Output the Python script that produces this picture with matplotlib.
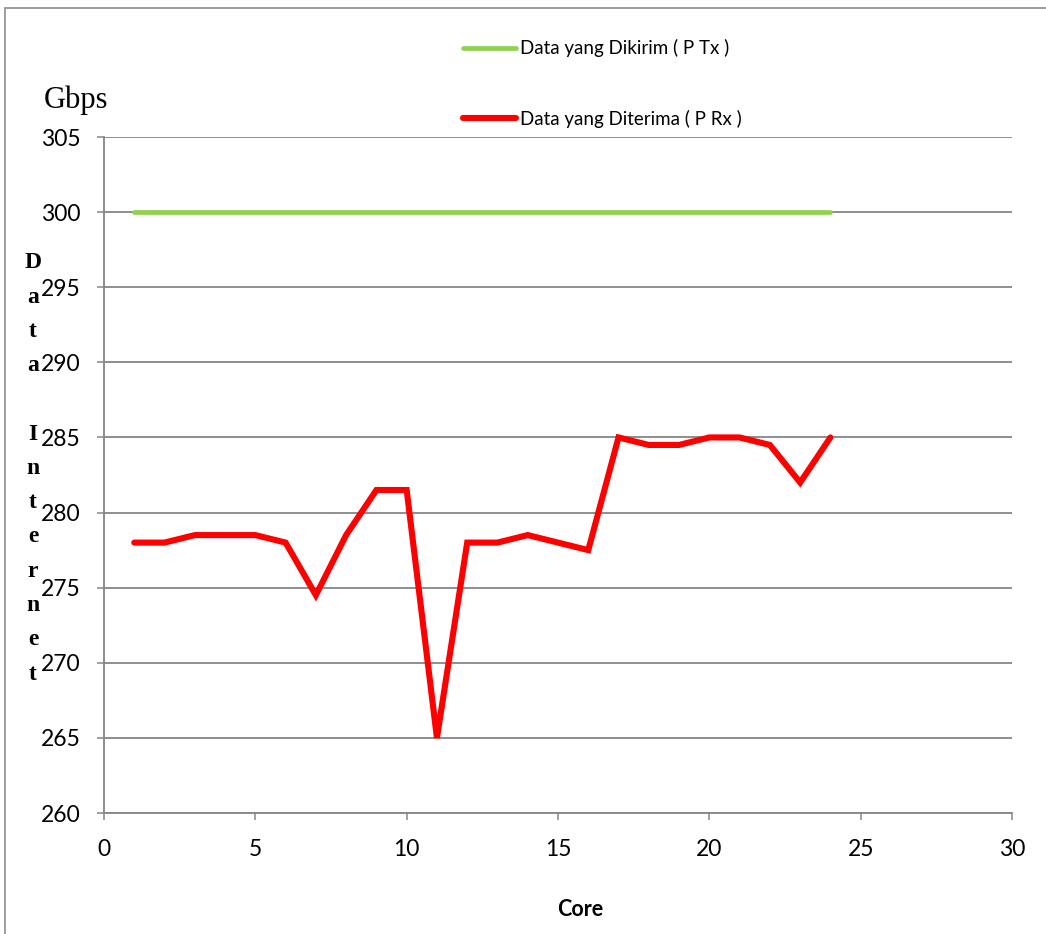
import matplotlib.pyplot as plt
from matplotlib.patches import Rectangle

# data
cores = list(range(1, 25))
tx_gbps = [300] * 24
rx_gbps = [278, 278, 278.5, 278.5, 278.5, 278, 274.5, 278.5, 281.5, 281.5,
           265, 278, 278, 278.5, 278, 277.5, 285, 284.5, 284.5, 285,
           285, 284.5, 282, 285]
tx_label = "Data yang Dikirim ( P Tx )"
rx_label = "Data yang Diterima ( P Rx )"
x_ticks = [0, 5, 10, 15, 20, 25, 30]
y_ticks = [260, 265, 270, 275, 280, 285, 290, 295, 300, 305]

W, H = 1046, 934
sans = ['Lato', 'DejaVu Sans']
serif = ['Liberation Serif', 'DejaVu Serif']
grid_col = '#868686'

fig = plt.figure(figsize=(W / 100, H / 100), dpi=100)

# outer chart frame
fig.add_artist(Rectangle((5 / W, -0.1), 1.2, 1 - 8 / H + 0.1, transform=fig.transFigure,
                         fill=False, edgecolor='#8c8c8c', linewidth=1.2))

ax = fig.add_axes([104 / W, 1 - 813 / H, 908 / W, 676 / H])
ax.plot(cores, tx_gbps, color='#92D050', linewidth=3.4, solid_capstyle='round',
        label=tx_label, zorder=3)
ax.plot(cores, rx_gbps, color='#FF0000', linewidth=4.4, solid_capstyle='round',
        solid_joinstyle='miter', label=rx_label, zorder=3)

ax.set_xlim(0, 30)
ax.set_ylim(260, 305)
ax.set_xticks(x_ticks)
ax.set_yticks(y_ticks)
ax.grid(axis='y', color=grid_col, linewidth=1.3)
ax.set_axisbelow(True)
for s in ['top', 'right']:
    ax.spines[s].set_visible(False)
for s in ['left', 'bottom']:
    ax.spines[s].set_color(grid_col)
    ax.spines[s].set_linewidth(1.3)
ax.tick_params(axis='both', colors=grid_col, length=5, width=1.1)
ax.tick_params(axis='y', pad=12)
ax.tick_params(axis='x', pad=14)
for lab in ax.get_xticklabels() + ax.get_yticklabels():
    lab.set_color('black')
    lab.set_fontfamily(sans)
    lab.set_fontsize(16.5)

leg = ax.legend(loc='upper left', bbox_to_anchor=(454 / W, 1 - 30 / H),
                bbox_transform=fig.transFigure, frameon=False,
                handlelength=2.8, handletextpad=0.2, labelspacing=2.8,
                borderpad=0, prop={'family': sans, 'size': 13.5})

fig.text(44 / W, 1 - 100 / H, "Gbps", family=serif, fontsize=22,
         ha='left', va='center')

# stacked vertical axis title
for i, ch in enumerate("Data Internet"):
    fig.text(33 / W, 1 - (263 + 34.25 * i) / H, ch, family=serif, fontsize=17,
             fontweight='bold', ha='center', va='center')

fig.text(580 / W, 1 - 910 / H, "Core", family=sans, fontsize=15.5,
         fontweight='bold', ha='center', va='center')

fig.savefig('out.png', dpi=100)
